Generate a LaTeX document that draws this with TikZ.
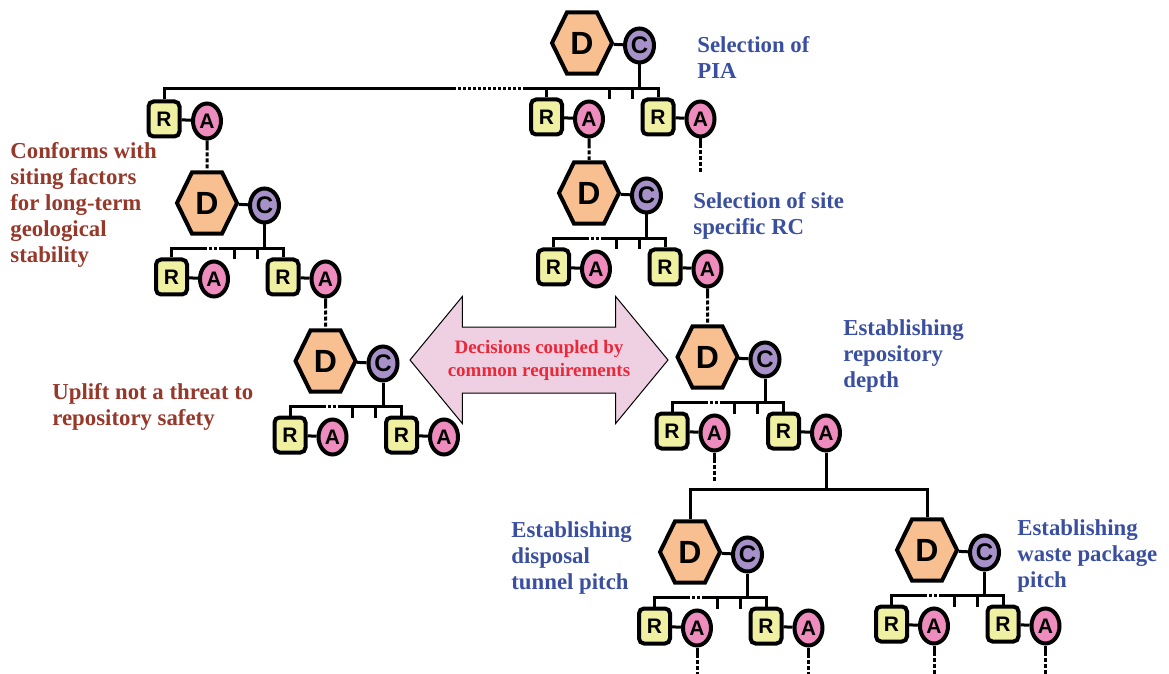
\documentclass[tikz,border=0pt]{standalone}
\usepackage{fontspec}
\setmainfont{Liberation Serif}
\newfontfamily\letterfont{Liberation Sans}
\usetikzlibrary{shapes.geometric, shapes.arrows, calc}

\definecolor{dpeach}{RGB}{248,192,144}
\definecolor{clilac}{RGB}{166,146,200}
\definecolor{rlemon}{RGB}{240,240,162}
\definecolor{apink}{RGB}{238,140,190}
\definecolor{goalblue}{RGB}{58,79,160}
\definecolor{basisred}{RGB}{150,56,42}
\definecolor{couplepink}{RGB}{238,208,226}
\definecolor{couplered}{RGB}{234,40,58}

\newcommand{\dletter}{\scalebox{1}[0.85]{D}}

\tikzset{
    dhex/.style = {regular polygon, regular polygon sides = 6, draw, line width = 2pt, fill = dpeach, minimum size = 30pt, inner sep = 0pt, yscale = 1.18, font = \letterfont\bfseries\fontsize{16pt}{16pt}\selectfont},
    cnode/.style = {ellipse, draw, line width = 2pt, fill = clilac, minimum width = 14.5pt, minimum height = 17pt, inner sep = 0pt, font = \letterfont\bfseries\fontsize{12pt}{12pt}\selectfont},
    rnode/.style = {rectangle, rounded corners = 2.5pt, draw, line width = 2pt, fill = rlemon, minimum width = 15.5pt, minimum height = 17.5pt, inner sep = 0pt, font = \letterfont\bfseries\fontsize{10.5pt}{10.5pt}\selectfont},
    anode/.style = {ellipse, draw, line width = 2pt, fill = apink, minimum width = 14pt, minimum height = 17.5pt, inner sep = 0pt, font = \letterfont\bfseries\fontsize{10.5pt}{10.5pt}\selectfont},
    link/.style = {line width = 1.5pt},
    gapdots/.style = {line width = 1.5pt, dash pattern = on 1.5pt off 1pt},
    tail/.style = {line width = 1.5pt, dash pattern = on 5pt off 1pt on 2pt off 1pt on 2pt off 1pt on 2pt off 1pt on 2pt off 1pt},
    goal/.style = {anchor = north west, inner sep = 0pt, align = left, text = goalblue, font = \bfseries\fontsize{11.4pt}{13pt}\selectfont},
    basis/.style = {goal, text = basisred}
}

\begin{document}
\begin{tikzpicture}[x = 0.5pt, y = -0.5pt]
    \useasboundingbox (0,0) rectangle (1169,674);

    % decision units: D with its C, the bar, two R-A pairs
    \foreach \u/\x/\y in {1/582/43, 2/207/203, 3/325.5/361, 4/589/193, 5/707.5/357, 6/690/552, 7/927/550}
    {
        \node (d\u) [dhex] at (\x,\y) {\dletter};
        \node (c\u) [cnode] at (\x+57.5,\y+2.5) {C};
        \node (rl\u) [rnode] at (\x-35.5,\y+74) {R};
        \node (al\u) [anode] at (\x+7,\y+76) {A};
        \node (rr\u) [rnode] at (\x+76,\y+74) {R};
        \node (ar\u) [anode] at (\x+118.5,\y+76) {A};
        \coordinate (bar\u) at (\x,\y+45.5);
        \draw [link] (d\u) -- (c\u);
        \draw [link] (rl\u) -- (al\u);
        \draw [link] (rr\u) -- (ar\u);
        \draw [link] (c\u.south) -- (c\u.south |- bar\u);
        \draw [link] ($(bar\u)+(27,0)$) -- ++(0,11);
        \draw [link] ($(bar\u)+(50,0)$) -- ++(0,11);
    }

    \foreach \u in {2, ..., 7}
    {
        \draw [link] (rl\u.north) |- ($(bar\u)+(-3,0)$);
        \draw [gapdots] ($(bar\u)+(-3,0)$) -- ($(bar\u)+(13,0)$);
        \draw [link] ($(bar\u)+(13,0)$) -| (rr\u.north);
    }

    % top unit has a third pair far to the left
    \node (rx) [rnode] at (164,119) {R};
    \node (ax) [anode] at (207,121) {A};
    \draw [link] (rx) -- (ax);
    \draw [link] (rx.north) |- ($(bar1)+(-129,0)$);
    \draw [gapdots] ($(bar1)+(-129,0)$) -- ($(bar1)+(-57,0)$);
    \draw [link] ($(bar1)+(-57,0)$) -| (rr1.north);
    \draw [link] (rl1.north) -- (rl1.north |- bar1);

    % links between units
    \draw [tail] (ax.south) -- (d2.north);
    \draw [tail] (al1.south) -- (d4.north);
    \draw [tail] (ar2.south) -- (d3.north);
    \draw [tail] (ar4.south) -- (d5.north);
    \coordinate (split) at ($(ar5.south)+(0,37)$);
    \draw [link] (ar5.south) -- (split);
    \draw [link] (d6.north) |- (split) -| (d7.north);

    \foreach \a/\l in {ar1/34, al5/28, al6/26, ar6/26, al7/28, ar7/28}
    {
        \coordinate (\a-end) at ($(\a.south)+(0,\l)$);
        \draw [tail] (\a.south) -- (\a-end);
    }

    % coupling arrow
    \node (couple) [double arrow, draw, line width = 0.5pt, fill = couplepink, double arrow tip angle = 101, double arrow head extend = 15.25pt, minimum height = 129pt, inner xsep = 0pt, inner ysep = 16.25pt] at (539,360) {};
    \node (couplenote) [align = center, text = couplered, font = \bfseries\fontsize{9.5pt}{11.5pt}\selectfont] at (couple.center) {Decisions coupled by\\common requirements};

    % labels
    \node (pia) [goal] at (697,36.5) {Selection of\\PIA};
    \node (siterc) [goal] at (693,192.5) {Selection of site\\specific RC};
    \node (depth) [goal] at (843,319.5) {Establishing\\repository\\depth};
    \node (tunnel) [goal] at (511,521.5) {Establishing\\disposal\\tunnel pitch};
    \node (package) [goal] at (1017,519.5) {Establishing\\waste package\\pitch};
    \node (stability) [basis] at (10,142.5) {Conforms with\\siting factors\\for long-term\\geological\\stability};
    \node (uplift) [basis] at (52,383.5) {Uplift not a threat to\\repository safety};
\end{tikzpicture}
\end{document}
